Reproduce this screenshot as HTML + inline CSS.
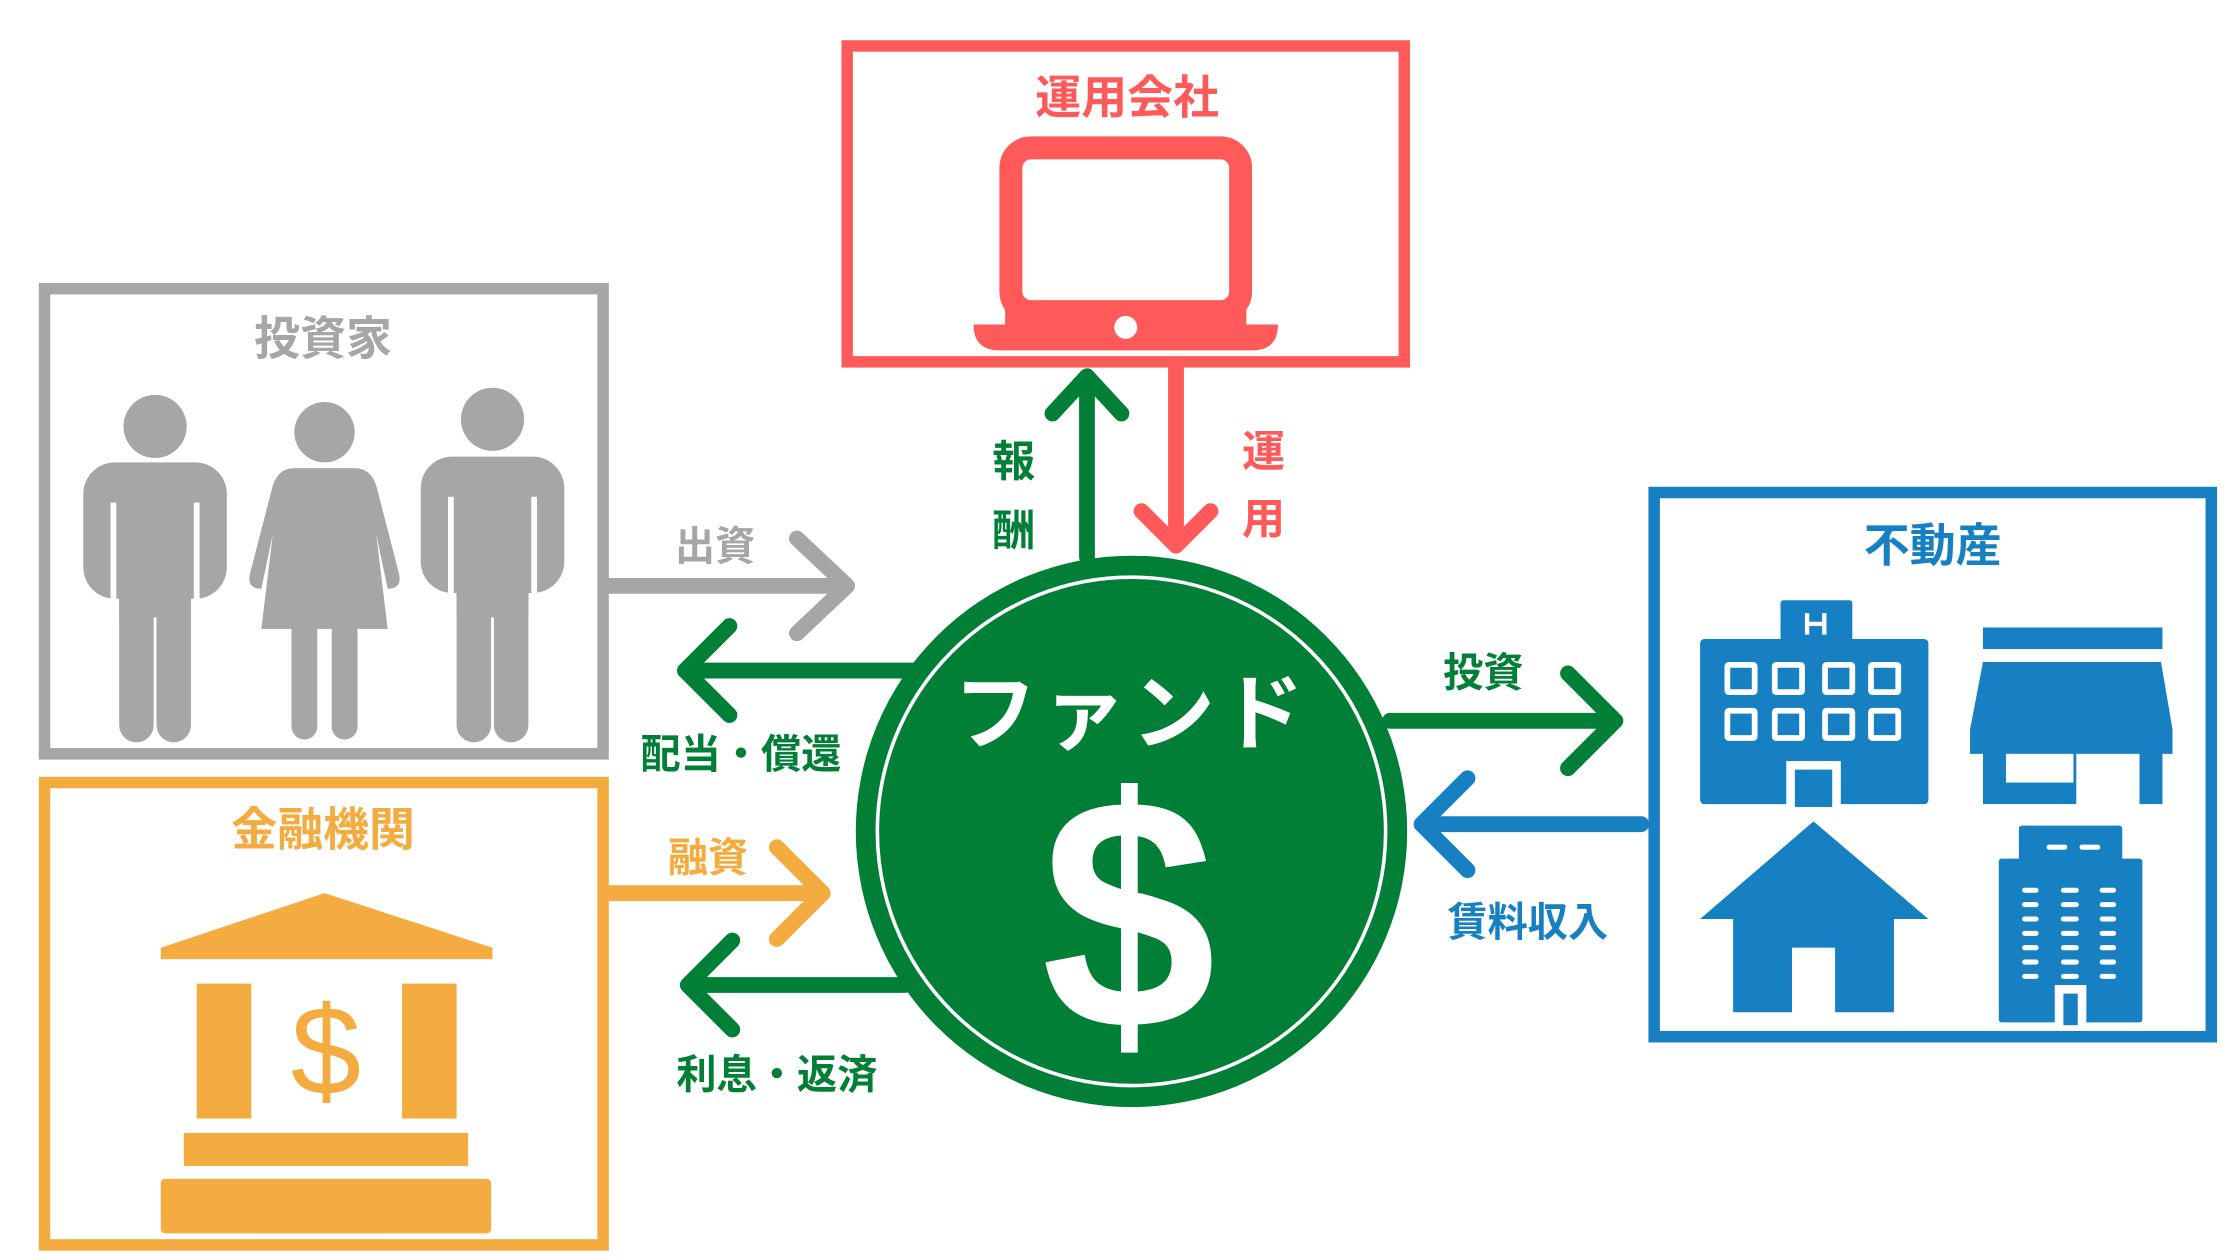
<!DOCTYPE html>
<html><head><meta charset="utf-8"><style>
html,body{margin:0;padding:0;background:#fff;width:2240px;height:1260px;overflow:hidden}
svg{display:block}
text{font-family:"Liberation Sans","Noto Sans CJK JP",sans-serif;font-weight:bold}
</style></head><body>
<svg width="2240" height="1260" viewBox="0 0 1560 877.5" xmlns="http://www.w3.org/2000/svg">
<rect width="1560" height="877.5" fill="#fff"/>
<rect x="590" y="32" width="388" height="220" fill="none" stroke="#FF5A5A" stroke-width="8"/>
<text x="785" y="79" font-size="32" fill="#FF5A5A" text-anchor="middle">運用会社</text>
<rect x="704" y="103" width="160" height="114" rx="14" fill="none" stroke="#FF5A5A" stroke-width="16"/>
<path d="M678 226 H890 Q890 244 872 244 H696 Q678 244 678 226Z" fill="#FF5A5A"/>
<rect x="700" y="212" width="168" height="18" fill="#FF5A5A"/>
<circle cx="784" cy="228" r="8" fill="#fff"/>
<g fill="none" stroke-linecap="round" stroke-linejoin="round" stroke-width="11">
<path d="M757 388 V264 M733 288 L757 262 L781 288" stroke="#027F36"/>
<path d="M819 256 V378 M795 356 L819 380 L843 356" stroke="#FF5A5A"/>
<path d="M424 408 H588 M555 375 L590 408 L555 441" stroke="#A6A6A6"/>
<path d="M636 467 H480 M508 436 L477 467 L508 498" stroke="#027F36"/>
<path d="M424 622 H572 M541 590 L573 622 L541 654" stroke="#F4AC41"/>
<path d="M630 686 H480 M510 655 L479 686 L510 717" stroke="#027F36"/>
<path d="M968 502 H1123 M1092 469 L1125 502 L1092 535" stroke="#027F36"/>
<path d="M1143 574 H992 M1022 542 L990 574 L1022 606" stroke="#1780C2"/>
</g>
<text x="706" y="332" font-size="30" fill="#027F36" text-anchor="middle">報</text>
<text x="706" y="380" font-size="30" fill="#027F36" text-anchor="middle">酬</text>
<text x="880" y="325" font-size="30" fill="#FF5A5A" text-anchor="middle">運</text>
<text x="880" y="372" font-size="30" fill="#FF5A5A" text-anchor="middle">用</text>
<text x="498" y="390" font-size="28" fill="#A6A6A6" text-anchor="middle">出資</text>
<text x="516" y="535" font-size="28" fill="#027F36" text-anchor="middle">配当・償還</text>
<text x="493" y="607" font-size="28" fill="#F4AC41" text-anchor="middle">融資</text>
<text x="541" y="758" font-size="28" fill="#027F36" text-anchor="middle">利息・返済</text>
<text x="1033" y="478" font-size="28" fill="#027F36" text-anchor="middle">投資</text>
<text x="1064" y="652" font-size="28" fill="#1780C2" text-anchor="middle">賃料収入</text>
<circle cx="788" cy="579" r="192" fill="#027F36"/>
<circle cx="788" cy="579" r="177" fill="none" stroke="#fff" stroke-width="2.5"/>
<text x="788" y="517" font-size="58" fill="#fff" text-anchor="middle" letter-spacing="4">ファンド</text>
<text x="786" y="716" font-size="230" fill="#fff" text-anchor="middle" transform="translate(786 0) scale(0.95 1) translate(-786 0)">$</text>
<rect x="31" y="201" width="389" height="324" fill="none" stroke="#A6A6A6" stroke-width="8"/>
<text x="225" y="247" font-size="32" fill="#A6A6A6" text-anchor="middle">投資家</text>
<g fill="#A6A6A6">
<circle cx="108" cy="297" r="22"/>
<rect x="58" y="322" width="100" height="95" rx="22"/>
<rect x="83" y="380" width="50" height="50"/>
<rect x="83" y="400" width="24" height="117" rx="12"/>
<rect x="109" y="400" width="24" height="117" rx="12"/>
<circle cx="226" cy="301" r="21"/>
<path d="M205 326 H247 Q258 326 262 338 L278 400 Q280 410 270 410 L262 372 L270 438 H182 L190 372 L182 410 Q172 410 174 400 L190 338 Q194 326 205 326Z"/>
<rect x="203" y="430" width="18" height="85" rx="9"/>
<rect x="231" y="430" width="18" height="85" rx="9"/>
<circle cx="343" cy="292" r="22"/>
<rect x="293" y="318" width="100" height="95" rx="22"/>
<rect x="318" y="380" width="50" height="50"/>
<rect x="318" y="400" width="24" height="117" rx="12"/>
<rect x="344" y="400" width="24" height="117" rx="12"/>
</g>
<g fill="#fff"><rect x="77" y="350" width="4" height="70"/><rect x="135" y="350" width="4" height="70"/><rect x="312" y="346" width="4" height="70"/><rect x="370" y="346" width="4" height="70"/></g>
<rect x="31" y="545" width="389" height="322" fill="none" stroke="#F4AC41" stroke-width="8"/>
<text x="225" y="589" font-size="32" fill="#F4AC41" text-anchor="middle">金融機関</text>
<g fill="#F4AC41">
<path d="M112 660 L226 622 L343 660 L343 668 L112 668Z"/>
<rect x="137" y="685" width="38" height="94"/>
<rect x="280" y="685" width="38" height="94"/>
<rect x="128" y="789" width="198" height="23"/>
<rect x="112" y="821" width="230" height="38" rx="3"/>
</g>
<text x="227" y="762" font-size="88" fill="#F4AC41" text-anchor="middle" style="font-weight:normal">$</text>
<rect x="1152" y="343" width="388" height="379" fill="none" stroke="#1780C2" stroke-width="8"/>
<text x="1346" y="391" font-size="32" fill="#1780C2" text-anchor="middle">不動産</text>
<g fill="#1780C2">
<rect x="1240" y="418" width="50" height="35" rx="2"/>
<rect x="1184" y="445" width="159" height="115" rx="3"/>
<rect x="1381" y="437" width="125" height="15"/>
<path d="M1381 461 H1505 L1513 508 V525 H1372 V508Z"/>
<rect x="1381" y="520" width="125" height="40"/>
<path d="M1263 572 L1343 640 H1319 V705 H1207 V640 H1184Z"/>
<rect x="1406" y="575" width="72" height="30" rx="2"/>
<rect x="1392" y="598" width="100" height="114" rx="2"/>
</g>
<g fill="#fff">
<rect x="1257" y="427" width="3" height="15"/><rect x="1269" y="427" width="3" height="15"/><rect x="1257" y="433" width="15" height="3"/>
<rect x="1244" y="530" width="38" height="32"/>
<rect x="1397" y="525" width="47" height="20"/>
<rect x="1446" y="525" width="44" height="37"/>
<rect x="1248" y="660" width="30" height="46"/>
<rect x="1431" y="686" width="22" height="28"/>
</g>
<rect x="1250" y="536" width="26" height="26" fill="#1780C2"/>
<rect x="1437" y="692" width="10" height="22" fill="#1780C2"/>
<g fill="none" stroke="#fff" stroke-width="4">
<rect x="1203" y="463" width="19" height="19" rx="1"/><rect x="1236" y="463" width="19" height="19" rx="1"/><rect x="1271" y="463" width="19" height="19" rx="1"/><rect x="1303" y="463" width="19" height="19" rx="1"/>
<rect x="1203" y="495" width="19" height="19" rx="1"/><rect x="1236" y="495" width="19" height="19" rx="1"/><rect x="1271" y="495" width="19" height="19" rx="1"/><rect x="1303" y="495" width="19" height="19" rx="1"/>
</g>
<g stroke="#fff" stroke-width="3.5" stroke-linecap="round">
<path d="M1427 590 H1438 M1450 590 H1461"/>
<path d="M1410 620 H1418 M1437 620 H1446 M1464 620 H1472"/>
<path d="M1410 630 H1418 M1437 630 H1446 M1464 630 H1472"/>
<path d="M1410 640 H1418 M1437 640 H1446 M1464 640 H1472"/>
<path d="M1410 650 H1418 M1437 650 H1446 M1464 650 H1472"/>
<path d="M1410 660 H1418 M1437 660 H1446 M1464 660 H1472"/>
<path d="M1410 670 H1418 M1437 670 H1446 M1464 670 H1472"/>
<path d="M1410 680 H1418 M1437 680 H1446 M1464 680 H1472"/>
</g>
</svg>
</body></html>
